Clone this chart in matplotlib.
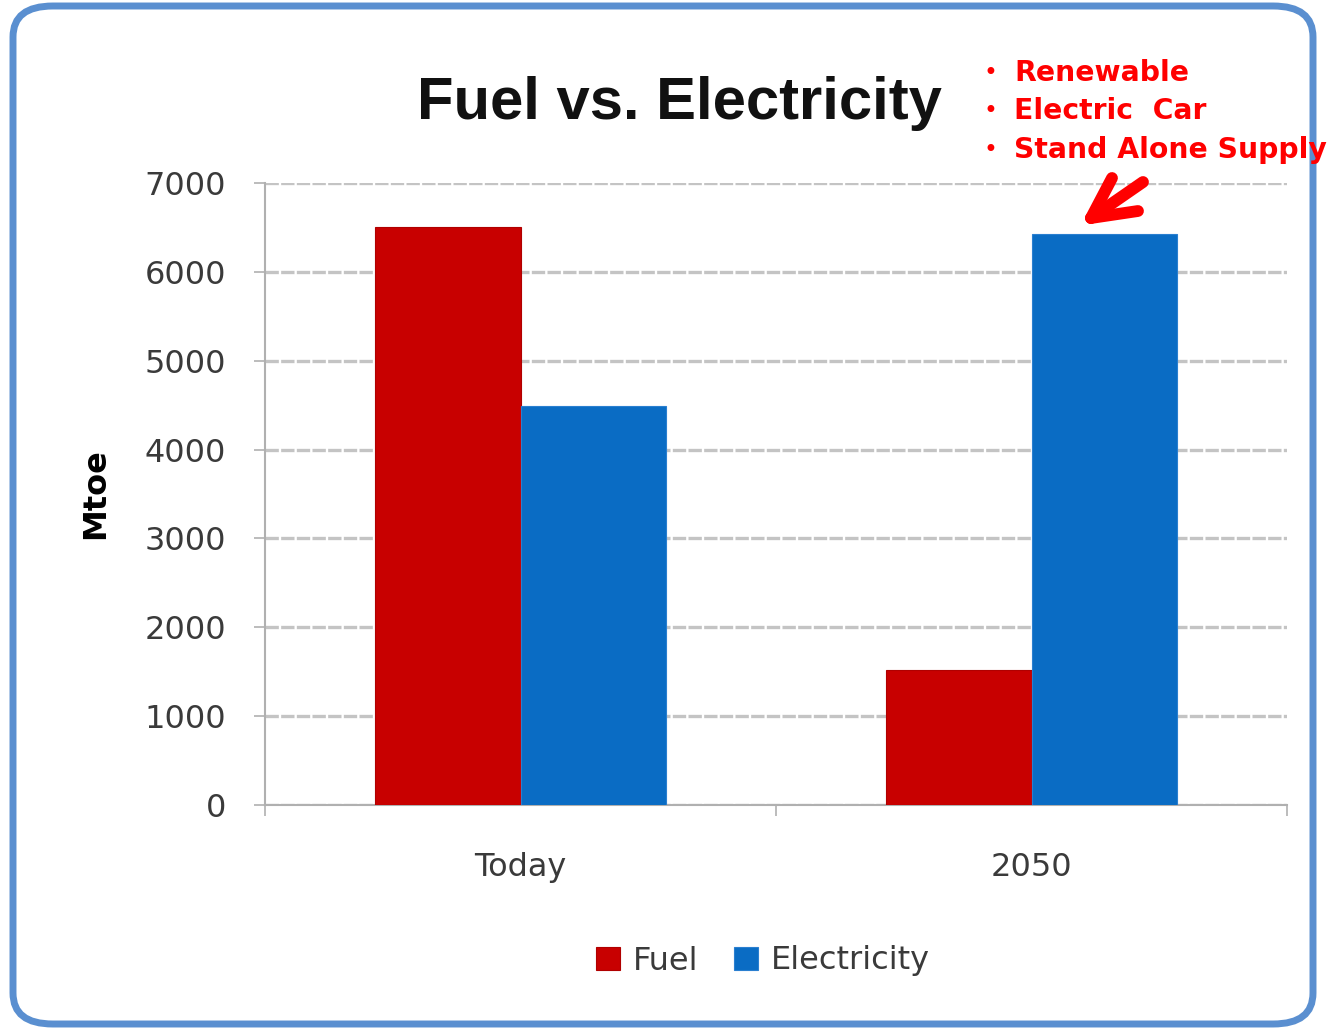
import matplotlib
matplotlib.use("Agg")
import matplotlib.pyplot as plt
from matplotlib.patches import FancyBboxPatch
from matplotlib.lines import Line2D
import numpy as np

categories = ["Today", "2050"]
fuel = [6500, 1520]
electricity = [4490, 6430]
yticks = [0, 1000, 2000, 3000, 4000, 5000, 6000, 7000]
notes = ["Renewable", "Electric  Car", "Stand Alone Supply"]

W, H = 1327, 1034
fig = plt.figure(figsize=(W/100, H/100), dpi=100)
fig.patch.set_facecolor("white")

# rounded border
border = FancyBboxPatch((13/W, 10/H), (1313/W - 13/W), (1028/H - 10/H),
                        boxstyle="round,pad=0,rounding_size=0.03",
                        transform=fig.transFigure, fill=False,
                        edgecolor="#5a8fd0", linewidth=5, zorder=0)
fig.patches.append(border)

ax = fig.add_axes([265/W, 1 - 805/H, (1287-265)/W, (805-183)/H])
x = np.arange(len(categories))
w = 0.285
ax.bar(x - w/2, fuel, w, color="#c80000", edgecolor="#b00000", linewidth=0.8, label="Fuel", zorder=3)
ax.bar(x + w/2, electricity, w, color="#0a6cc4", edgecolor="#2a7fd0", linewidth=0.8, label="Electricity", zorder=3)

ax.set_xlim(-0.5, 1.5)
ax.set_ylim(0, 7000)
ax.set_yticks(yticks)
ax.set_yticklabels([str(v) for v in yticks], fontsize=23, color="#3a3a3a")
ax.yaxis.grid(True, color="#c4c4c4", linewidth=2.4, linestyle=(0, (4, 0.7)), zorder=0)
ax.set_axisbelow(True)

ax.set_xticks([-0.5, 0.5, 1.5])
ax.set_xticklabels([])
ax.tick_params(axis="x", direction="out", length=8, color="#b0b0b0", width=1.2)
ax.tick_params(axis="y", direction="out", length=8, color="#b0b0b0", width=1.2, pad=20)
for i, c in enumerate(categories):
    ax.text(i, -705, c, ha="center", va="center", fontsize=23, color="#3a3a3a")

for s in ["top", "right"]:
    ax.spines[s].set_visible(False)
for s in ["left", "bottom"]:
    ax.spines[s].set_color("#b0b0b0")
    ax.spines[s].set_linewidth(1.5)

ax.set_ylabel("Mtoe", fontsize=23, fontweight="bold", color="black", labelpad=24)

fig.text(679/W, 1 - 103/H, "Fuel vs. Electricity", ha="center", va="center",
         fontsize=43, fontweight="bold", color="#111111", fontfamily="Liberation Sans")

ys = [73, 111, 150]
for t, yy in zip(notes, ys):
    fig.text(990/W, 1 - yy/H, "•", ha="center", va="center", fontsize=17, color="#ff0000")
    fig.text(1014/W, 1 - yy/H, t, ha="left", va="center", fontsize=20.3,
             fontweight="bold", color="#ff0000")

# arrow: shaft + open V head (figure pixels -> fraction)
def fp(px, py):
    return px / W, 1 - py / H
tip = fp(1091, 218)
for end in [fp(1143, 182), fp(1112, 178), fp(1138, 211)]:
    fig.lines.append(Line2D([tip[0], end[0]], [tip[1], end[1]], transform=fig.transFigure,
                            color="#ff0000", linewidth=8.5, solid_capstyle="round",
                            solid_joinstyle="round", zorder=5))

leg = fig.legend(loc="center", bbox_to_anchor=(763/W, 1 - 961/H), ncol=2, frameon=False,
                 fontsize=23, handlelength=0.75, handleheight=0.75, handletextpad=0.4,
                 columnspacing=1.1)
for t in leg.get_texts():
    t.set_color("#3a3a3a")

fig.savefig("out.png", dpi=100)
